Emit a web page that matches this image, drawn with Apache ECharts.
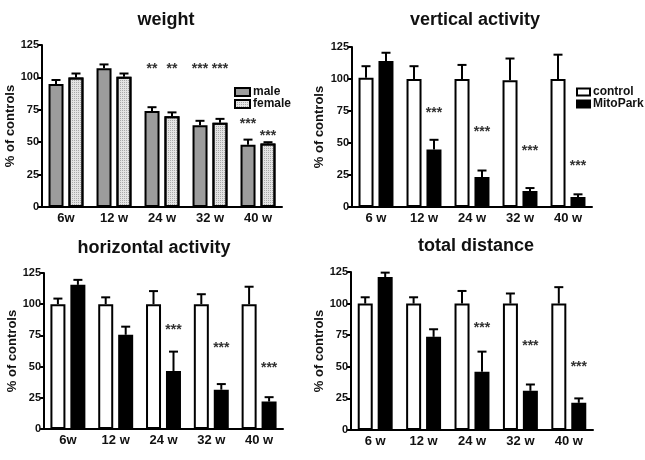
<!DOCTYPE html>
<html>
<head>
<meta charset="utf-8">
<script src="https://cdn.jsdelivr.net/npm/echarts@6/dist/echarts.min.js"></script>
<style>html,body{margin:0;padding:0;background:#fff;}#c{width:645px;height:460px;}</style>
</head>
<body>
<div id="c"></div>
<script>
// ---- data ----
const weightCats = ['6w', '12 w', '24 w', '32 w', '40 w'];
const weightMale = [95, 107, 74, 63, 48];
const weightMaleErr = [98, 110, 77, 66.5, 52];
const weightFemale = [100, 100.5, 70, 65, 49];
const weightFemaleErr = [103, 103, 73, 68, 50];
const weightStars = [[2, 0, 109, '**'], [2, 1, 109, '**'], [3, 0, 109, '***'], [3, 1, 109, '***'], [4, 0, 66, '***'], [4, 1, 57, '***']];

const vertCats = ['6 w', '12 w', '24 w', '32 w', '40 w'];
const vertControl = [101, 100, 100, 99, 100];
const vertControlErr = [110, 110, 111, 116, 119];
const vertMito = [114, 45, 23.5, 12.5, 7.8];
const vertMitoErr = [120.5, 52.5, 28.5, 14.8, 9.9];
const vertStars = [[1, 1, 76, '***'], [2, 1, 61, '***'], [3, 1, 46, '***'], [4, 1, 34, '***']];

const horizCats = ['6w', '12 w', '24 w', '32 w', '40 w'];
const horizControl = [100, 100, 100, 100, 100];
const horizControlErr = [104.5, 105.5, 110.5, 108, 114];
const horizMito = [115.5, 75.5, 46.5, 31.5, 22];
const horizMitoErr = [119.5, 82, 62, 36, 25.5];
const horizStars = [[2, 1, 82, '***'], [3, 1, 67.5, '***'], [4, 1, 51.5, '***']];

const distCats = ['6 w', '12 w', '24 w', '32 w', '40 w'];
const distControl = [100, 100, 100, 100, 100];
const distControlErr = [105, 105, 110, 108, 113];
const distMito = [121, 73.7, 46, 31, 21.5];
const distMitoErr = [124.5, 79.7, 62, 36, 25];
const distStars = [[2, 1, 83, '***'], [3, 1, 69, '***'], [4, 1, 52, '***']];

const yTicks = { min: 0, max: 125, interval: 25 };
const titles = ['weight', 'vertical activity', 'horizontal activity', 'total distance'];

// ---- chart ----
const FONT = 'Liberation Sans, Arial, Helvetica, sans-serif';
const chart = echarts.init(document.getElementById('c'), null, { renderer: 'canvas' });

const grids = [
  { left: 42, top: 45, width: 240, height: 162 },
  { left: 352, top: 47, width: 240, height: 160 },
  { left: 44, top: 273, width: 239, height: 156 },
  { left: 351, top: 272, width: 242, height: 158 }
];
const nameGaps = [15, 26, 18, 25];
const catsList = [weightCats, vertCats, horizCats, distCats];

const xAxes = catsList.map((cats, i) => ({
  type: 'category', gridIndex: i, data: cats,
  axisLine: { show: true, lineStyle: { color: '#000', width: 2 } },
  axisTick: { show: false },
  axisLabel: { color: '#111', fontWeight: 'bold', fontSize: 13, fontFamily: FONT, margin: 5 }
}));
const yAxes = grids.map((g, i) => ({
  type: 'value', gridIndex: i, min: yTicks.min, max: yTicks.max, interval: yTicks.interval,
  name: '% of controls', nameLocation: 'middle', nameRotate: 90, nameGap: nameGaps[i],
  nameTextStyle: { color: '#111', fontWeight: 'bold', fontSize: 13, fontFamily: FONT },
  axisLine: { show: true, lineStyle: { color: '#000', width: 2 } },
  axisTick: { show: true, length: 4, lineStyle: { color: '#000', width: 2 } },
  splitLine: { show: false },
  axisLabel: { color: '#111', fontWeight: 'bold', fontSize: 11, fontFamily: FONT, margin: 3 }
}));

function errRender(params, api) {
  const cat = api.value(0), v = api.value(1), e = api.value(2), side = api.value(3);
  const p0 = api.coord([cat, v]);
  const p1 = api.coord([cat, e]);
  const x = p0[0] + side * 10;
  return {
    type: 'group', children: [
      { type: 'line', shape: { x1: x, y1: p0[1], x2: x, y2: p1[1] }, style: { stroke: '#000', lineWidth: 2 } },
      { type: 'line', shape: { x1: x - 4.5, y1: p1[1], x2: x + 4.5, y2: p1[1] }, style: { stroke: '#000', lineWidth: 2 } }
    ]
  };
}
function errSeries(i, vals, errs, side) {
  return {
    type: 'custom', xAxisIndex: i, yAxisIndex: i, renderItem: errRender, z: 5, silent: true,
    data: vals.map((v, k) => [k, v, errs[k], side])
  };
}
function starSeries(i, stars) {
  return {
    type: 'custom', xAxisIndex: i, yAxisIndex: i, z: 6, silent: true,
    data: stars.map(s => [s[0], s[2], s[1] === 0 ? -1 : 1]),
    renderItem: function (params, api) {
      const p = api.coord([api.value(0), api.value(1)]);
      return {
        type: 'text', x: p[0] + api.value(2) * 10, y: p[1] + 3,
        style: { text: stars[params.dataIndex][3], textAlign: 'center', textVerticalAlign: 'middle', font: 'bold 14px ' + FONT, fill: '#333' }
      };
    }
  };
}
function barSeries(i, name, vals, style) {
  return {
    type: 'bar', name: name, xAxisIndex: i, yAxisIndex: i, data: vals,
    barWidth: 15, barGap: '33%',
    itemStyle: Object.assign({ borderColor: '#000', borderWidth: 2 }, style)
  };
}

const maleStyle = { color: '#9c9c9c' };
const femaleStyle = { color: '#e4e4e4', decal: { symbol: 'rect', symbolSize: 1, dashArrayX: [1, 1], dashArrayY: [1, 1], color: 'rgba(120,120,120,0.55)' } };
const ctrlStyle = { color: '#fff' };
const mitoStyle = { color: '#000' };

const series = [
  barSeries(0, 'male', weightMale, maleStyle),
  barSeries(0, 'female', weightFemale, femaleStyle),
  errSeries(0, weightMale, weightMaleErr, -1),
  errSeries(0, weightFemale, weightFemaleErr, 1),
  starSeries(0, weightStars),

  barSeries(1, 'control', vertControl, ctrlStyle),
  barSeries(1, 'MitoPark', vertMito, mitoStyle),
  errSeries(1, vertControl, vertControlErr, -1),
  errSeries(1, vertMito, vertMitoErr, 1),
  starSeries(1, vertStars),

  barSeries(2, 'control', horizControl, ctrlStyle),
  barSeries(2, 'MitoPark', horizMito, mitoStyle),
  errSeries(2, horizControl, horizControlErr, -1),
  errSeries(2, horizMito, horizMitoErr, 1),
  starSeries(2, horizStars),

  barSeries(3, 'control', distControl, ctrlStyle),
  barSeries(3, 'MitoPark', distMito, mitoStyle),
  errSeries(3, distControl, distControlErr, -1),
  errSeries(3, distMito, distMitoErr, 1),
  starSeries(3, distStars)
];

const titlePos = [[166, 20], [475, 20], [154, 248], [476, 246]];
const graphic = titles.map((t, i) => ({
  type: 'text', x: titlePos[i][0], y: titlePos[i][1],
  style: { text: t, textAlign: 'center', textVerticalAlign: 'middle', font: 'bold 18px ' + FONT, fill: '#111' }
}));

chart.setOption({
  animation: false,
  backgroundColor: '#fff',
  grid: grids.map(g => Object.assign({ containLabel: false }, g)),
  xAxis: xAxes,
  yAxis: yAxes,
  legend: [
    { data: ['male', 'female'], orient: 'vertical', left: 229, top: 81, itemWidth: 15, itemHeight: 8, itemGap: 0, icon: 'rect',
      textStyle: { fontWeight: 'bold', fontSize: 12, fontFamily: FONT, color: '#111', padding: [0, 0, 0, -2] }, selectedMode: false },
    { data: ['control', 'MitoPark'], orient: 'vertical', left: 571, top: 81, itemWidth: 13, itemHeight: 7, itemGap: 0, icon: 'rect',
      textStyle: { fontWeight: 'bold', fontSize: 12, fontFamily: FONT, color: '#111', padding: [0, 0, 0, -2] }, selectedMode: false }
  ],
  graphic: graphic,
  series: series
});
</script>
</body>
</html>
